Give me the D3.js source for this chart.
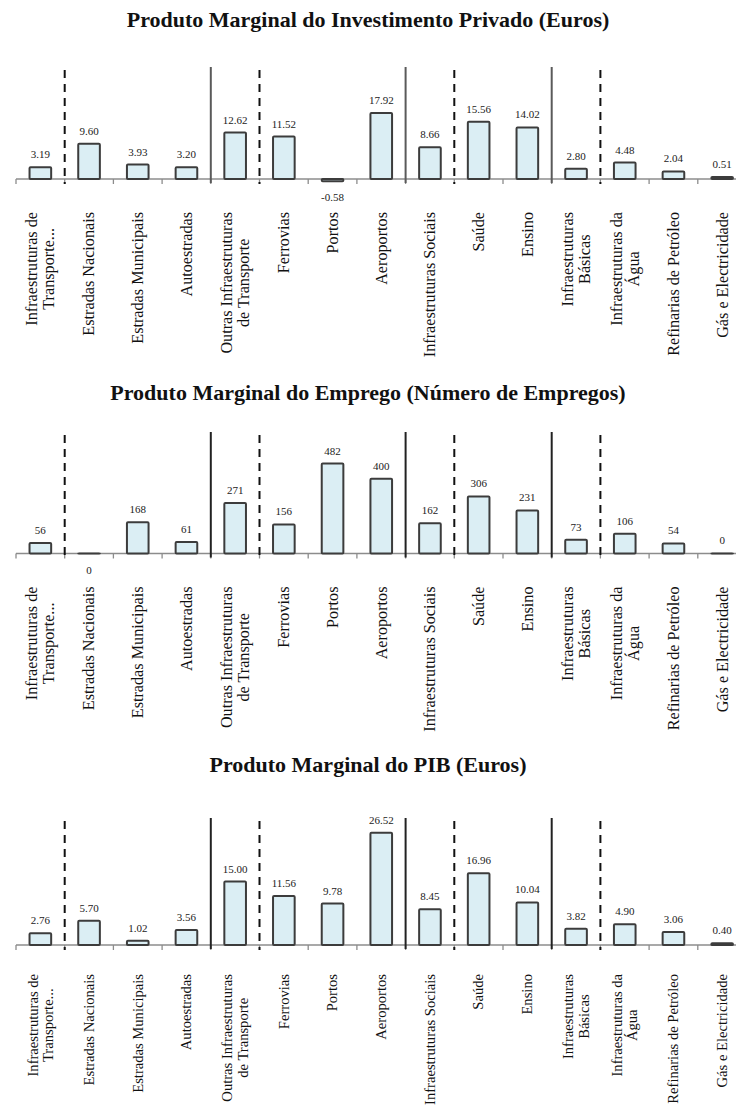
<!DOCTYPE html>
<html>
<head>
<meta charset="utf-8">
<script src="https://cdn.jsdelivr.net/npm/d3@7"></script>
<style>
  html, body { margin: 0; padding: 0; background: #fff; }
  svg { display: block; }
</style>
</head>
<body>
<svg id="chart" width="736" height="1106"></svg>
<script>
// ---------- DATA ----------
const categories = [
  "Infraestruturas de\nTransporte...",
  "Estradas Nacionais",
  "Estradas Municipais",
  "Autoestradas",
  "Outras Infraestruturas\nde Transporte",
  "Ferrovias",
  "Portos",
  "Aeroportos",
  "Infraestruturas Sociais",
  "Saúde",
  "Ensino",
  "Infraestruturas\nBásicas",
  "Infraestruturas da\nÁgua",
  "Refinarias de Petróleo",
  "Gás e Electricidade"
];

const titles = [
  "Produto Marginal do Investimento Privado (Euros)",
  "Produto Marginal do Emprego (Número de Empregos)",
  "Produto Marginal do PIB (Euros)"
];

const investimentoPrivado = [3.19, 9.60, 3.93, 3.20, 12.62, 11.52, -0.58, 17.92, 8.66, 15.56, 14.02, 2.80, 4.48, 2.04, 0.51];
const emprego = [56, -0.4, 168, 61, 271, 156, 482, 400, 162, 306, 231, 73, 106, 54, 0.4];
const pib = [2.76, 5.70, 1.02, 3.56, 15.00, 11.56, 9.78, 26.52, 8.45, 16.96, 10.04, 3.82, 4.90, 3.06, 0.40];

const valueFormats = [".2f", ".0f", ".2f"];
const axisMax = [30, 600, 30];

// group separators: index of the category boundary (line drawn before that category)
const solidSeparators = [4, 8, 11];
const dashedSeparators = [1, 5, 9, 12];

// ---------- LAYOUT ----------
const series = [investimentoPrivado, emprego, pib];
const layout = [
  { titleY: 27, baseline: 179, plotH: 110.4, lineTop: 67, labOff: 33, labFs: 16.2 },
  { titleY: 400, baseline: 553.5, plotH: 112, lineTop: 432, labOff: 33, labFs: 16.2 },
  { titleY: 772, baseline: 945, plotH: 127, lineTop: 818, labOff: 29, labFs: 14.6 }
];

const locale = d3.formatLocale({ decimal: ".", thousands: ",", grouping: [3], currency: ["", ""], minus: "-" });

const svg = d3.select("#chart");
const W = 736;

const x = d3.scaleBand()
  .domain(categories)
  .range([16, 16 + 15 * 48.7])
  .paddingInner(0.556)
  .paddingOuter(0.278);
const step = x.step();
const x0 = x.range()[0];
const boundary = i => x0 + i * step;

series.forEach((vals, p) => {
  const L = layout[p];
  const y = d3.scaleLinear().domain([0, axisMax[p]]).range([L.baseline, L.baseline - L.plotH]);
  const g = svg.append("g");
  const fmt = locale.format(valueFormats[p]);

  // title
  g.append("text")
    .attr("x", W / 2)
    .attr("y", L.titleY)
    .attr("text-anchor", "middle")
    .attr("font-family", "'Liberation Serif', 'Times New Roman', serif")
    .attr("font-weight", "bold")
    .attr("font-size", 22)
    .attr("fill", "#111")
    .text(titles[p]);

  // x axis line with ticks
  const axisG = g.append("g").attr("transform", `translate(0,${L.baseline})`);
  axisG.append("line")
    .attr("x1", x0).attr("x2", x.range()[1])
    .attr("y1", 0).attr("y2", 0)
    .attr("stroke", "#8c8c8c").attr("stroke-width", 1.3);
  axisG.selectAll("line.tick")
    .data(d3.range(categories.length + 1))
    .join("line")
    .attr("class", "tick")
    .attr("x1", d => boundary(d)).attr("x2", d => boundary(d))
    .attr("y1", 0).attr("y2", 5)
    .attr("stroke", "#8c8c8c").attr("stroke-width", 1.3);

  // separators
  g.selectAll("line.solid")
    .data(solidSeparators)
    .join("line")
    .attr("class", "solid")
    .attr("x1", d => boundary(d)).attr("x2", d => boundary(d))
    .attr("y1", L.lineTop).attr("y2", L.baseline + 4)
    .attr("stroke", p === 0 ? "#5a5a5a" : "#222").attr("stroke-width", 2);
  g.selectAll("line.dashed")
    .data(dashedSeparators)
    .join("line")
    .attr("class", "dashed")
    .attr("x1", d => boundary(d)).attr("x2", d => boundary(d))
    .attr("y1", L.lineTop + 3).attr("y2", L.baseline + 5)
    .attr("stroke", "#111").attr("stroke-width", 2)
    .attr("stroke-dasharray", "8,6");

  // bars
  g.selectAll("rect.bar")
    .data(vals.map((v, i) => ({ v, c: categories[i] })))
    .join("rect")
    .attr("class", "bar")
    .attr("x", d => x(d.c))
    .attr("width", x.bandwidth())
    .attr("y", d => Math.min(y(d.v), y(0)))
    .attr("height", d => Math.abs(y(d.v) - y(0)))
    .attr("rx", 1)
    .attr("fill", "#dbeef4")
    .attr("stroke", "#3c3c3c")
    .attr("stroke-width", 2);

  // value labels
  g.selectAll("text.val")
    .data(vals.map((v, i) => ({ v, c: categories[i] })))
    .join("text")
    .attr("class", "val")
    .attr("x", d => x(d.c) + x.bandwidth() / 2)
    .attr("y", d => d.v >= 0 ? y(d.v) - 9 : y(d.v) + 20)
    .attr("text-anchor", "middle")
    .attr("font-family", "'Liberation Serif', 'Times New Roman', serif")
    .attr("font-size", 11)
    .attr("fill", "#222")
    .text(d => fmt(d.v));

  // category labels (rotated, block top-aligned, lines centred)
  const labTop = L.baseline + L.labOff;
  categories.forEach((c, i) => {
    const lines = c.split("\n");
    const cx = x(c) + x.bandwidth() / 2;
    const lg = g.append("g").attr("transform", `translate(${cx},${labTop}) rotate(-90)`);
    const fs = L.labFs;
    const lh = fs * 1.05;
    const t = lg.append("text")
      .attr("font-family", "'Liberation Serif', 'Times New Roman', serif")
      .attr("font-size", fs)
      .attr("fill", "#111")
      .attr("text-anchor", "middle");
    const spans = lines.map((ln, k) => t.append("tspan")
      .attr("x", 0)
      .attr("y", (k - (lines.length - 1) / 2) * lh + fs * 0.33)
      .text(ln));
    const maxW = d3.max(spans, s => s.node().getComputedTextLength());
    spans.forEach(s => s.attr("x", -maxW / 2));
  });
});
</script>
</body>
</html>
